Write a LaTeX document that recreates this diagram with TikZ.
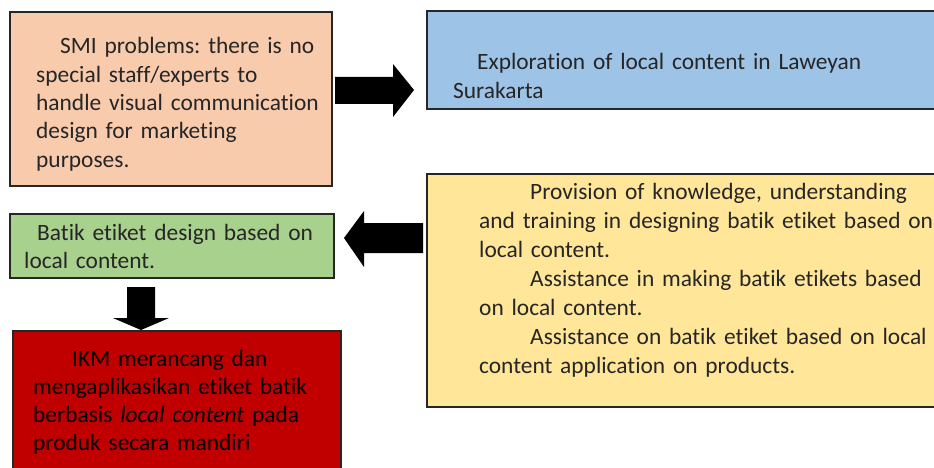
\documentclass[tikz,border=0pt]{standalone}
\usepackage{fontspec}
\setmainfont{Carlito}[Ligatures={NoCommon}, WordSpace=0.85]
\definecolor{boxorange}{HTML}{F8CBAD}
\definecolor{boxblue}{HTML}{9DC3E6}
\definecolor{boxyellow}{HTML}{FFE699}
\definecolor{boxgreen}{HTML}{A9D18E}
\definecolor{boxred}{HTML}{C00000}
\definecolor{ink}{HTML}{262626}
\tikzset{
  panel/.style={draw=black!85, line width=1.3pt},
  body/.style={anchor=base west, inner sep=0pt, align=left, text=ink,
    text width=600pt,
    font=\fontsize{23.4}{28.3}\selectfont\frenchspacing},
  fatarrow/.style={fill=black, draw=none}
}
\begin{document}
\begin{tikzpicture}[x=1pt, y=-1pt]
\useasboundingbox (0,0) rectangle (934,468);

% boxes
\path[panel, fill=boxorange] (10,12) rectangle (332,186);
\path[panel, fill=boxblue]   (427,11) rectangle (945,109);
\path[panel, fill=boxyellow] (427,174) rectangle (945,407);
\path[panel, fill=boxgreen]  (10,214) rectangle (334,278);
\path[panel, fill=boxred]    (13,331) rectangle (341,480);

% anchors for the arrows
\coordinate (orangeE) at (335,90);
\coordinate (blueW)   at (414,90);
\coordinate (yellowW) at (423,238);
\coordinate (greenE)  at (344,238);
\coordinate (greenS)  at (141,287);
\coordinate (redN)    at (141,330);

% texts (line breaks set by hand)
\node[body] (tproblem) at (36,54)
  {\hspace*{24pt}SMI problems: there is no\\special staff/experts to\\handle visual communication\\design for marketing\\purposes.};
\node[body] (texplore) at (453,70)
  {\hspace*{24pt}Exploration of local content in Laweyan\\Surakarta};
\node[body, font=\fontsize{23.4}{29}\selectfont\frenchspacing] (tprovide) at (479,199)
  {\hspace*{51pt}Provision of knowledge, understanding\\and training in designing batik etiket based on\\local content.\\\hspace*{51pt}Assistance in making batik etikets based\\on local content.\\\hspace*{51pt}Assistance on batik etiket based on local\\content application on products.};
\node[body] (tdesign) at (24,240)
  {\hspace*{13pt}Batik etiket design based on\\local content.};
\node[body, text=black] (tikm) at (33,366)
  {\hspace*{39pt}IKM merancang dan\\mengaplikasikan etiket batik\\berbasis \textit{local content} pada\\produk secara mandiri};

% block arrows
\path[fatarrow] (orangeE) ++(0,-13) -- ++(58,0) -- ++(0,-13) -- (blueW)
  -- ++(-21,27) -- ++(0,-13) -- ++(-58,0) -- cycle;
\path[fatarrow] (yellowW) ++(0,-15) -- ++(-59,0) -- ++(0,-12) -- (greenE)
  -- ++(20,29) -- ++(0,-14) -- ++(59,0) -- cycle;
\path[fatarrow] (greenS) ++(-14,0) -- ++(28,0) -- ++(0,31) -- ++(14,0) -- (redN)
  -- ++(-28,-12) -- ++(14,0) -- cycle;
\end{tikzpicture}
\end{document}
